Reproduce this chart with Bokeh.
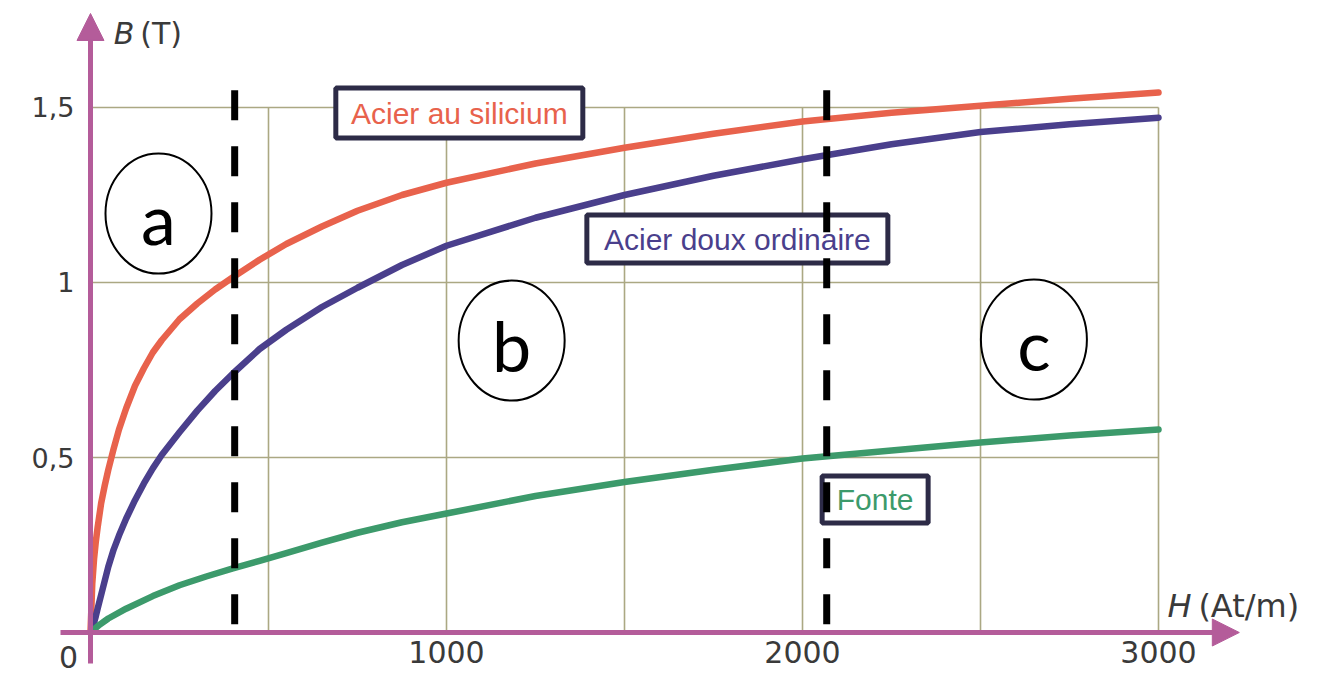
from bokeh.plotting import figure
from bokeh.models import Range1d, FixedTicker, Arrow, NormalHead, LinearAxis
from bokeh.core.properties import value
from bokeh.embed import file_html
from bokeh.resources import INLINE

# ---- data ----
H_silicium = [0, 5, 10, 15, 20, 30, 40, 50, 65, 80, 100, 125, 150, 175, 200, 250,
              300, 350, 400, 475, 550, 650, 750, 875, 1000, 1250, 1500, 1750,
              2000, 2250, 2500, 2750, 3000]
B_silicium = [0, 0.14, 0.21, 0.26, 0.30, 0.37, 0.42, 0.465, 0.525, 0.58, 0.64,
              0.705, 0.755, 0.80, 0.835, 0.895, 0.94, 0.98, 1.015, 1.065, 1.11,
              1.16, 1.205, 1.25, 1.285, 1.34, 1.385, 1.425, 1.46, 1.485, 1.505,
              1.525, 1.543]

H_doux = [0, 5, 10, 15, 20, 30, 40, 50, 65, 80, 100, 125, 150, 175, 200, 250,
          300, 350, 400, 475, 550, 650, 750, 875, 1000, 1250, 1500, 1750, 2000,
          2250, 2500, 2750, 3000]
B_doux = [0, 0.012, 0.028, 0.047, 0.068, 0.108, 0.148, 0.188, 0.237, 0.277, 0.325,
          0.378, 0.426, 0.469, 0.507, 0.572, 0.634, 0.69, 0.74, 0.81, 0.865, 0.93,
          0.985, 1.05, 1.105, 1.185, 1.25, 1.305, 1.352, 1.395, 1.43, 1.452, 1.471]

H_fonte = [0, 25, 50, 100, 175, 250, 325, 400, 475, 550, 650, 750, 875, 1000,
           1250, 1500, 1750, 2000, 2250, 2500, 2750, 3000]
B_fonte = [0, 0.022, 0.040, 0.068, 0.104, 0.135, 0.16, 0.183, 0.205, 0.227,
           0.257, 0.285, 0.315, 0.34, 0.39, 0.43, 0.465, 0.497, 0.52, 0.543,
           0.563, 0.58]

curve_names = ["Acier au silicium", "Acier doux ordinaire", "Fonte"]
curve_colors = ["#e8624c", "#4a3f8c", "#3c9a6b"]

x_ticks = [1000, 2000, 3000]
x_tick_labels = ["1000", "2000", "3000"]
y_ticks = [0.5, 1.0, 1.5]
y_tick_labels = ["0,5", "1", "1,5"]
grid_x = [500, 1000, 1500, 2000, 2500, 3000]
grid_y = [0.5, 1.0, 1.5]

region_bounds = [405, 2068]
region_names = ["a", "b", "c"]
region_H = [191, 1183, 2650]
region_B = [1.197, 0.834, 0.837]

label_H = [1036, 1817, 2204]
label_B = [1.484, 1.124, 0.38]

AXIS = "#b45c9a"
GRID = "#aba883"
TXT = "#3a3a3a"

p = figure(width=1317, height=676, x_range=Range1d(-252.8, 3446.6),
           y_range=Range1d(-0.1257, 1.8057), output_backend="svg",
           toolbar_location=None, min_border=0, outline_line_color=None,
           x_axis_type=None, y_axis_type=None,
           background_fill_color="white", border_fill_color="white")

# grid (limited to the data box)
p.segment(x0=grid_x, y0=[0] * len(grid_x), x1=grid_x, y1=[max(grid_y)] * len(grid_x),
          line_color=GRID, line_width=1.6)
p.segment(x0=[0] * len(grid_y), y0=grid_y, x1=[max(grid_x)] * len(grid_y), y1=grid_y,
          line_color=GRID, line_width=1.6)

# curves
for xs, ys, c in zip([H_silicium, H_doux, H_fonte], [B_silicium, B_doux, B_fonte], curve_colors):
    p.line(xs, ys, line_color=c, line_width=6.5, line_join="round", line_cap="round")

# curve label boxes
p.rect(x=label_H, y=label_B, width=[247, 301, 106], height=[50, 48, 47],
       width_units="screen", height_units="screen", fill_color="white",
       line_color="#2d2b47", line_width=5)
p.text(x=label_H, y=label_B, text=curve_names, text_color=curve_colors,
       text_font=value("Liberation Sans"), text_font_size="30px",
       text_align="center", text_baseline="middle")

# region ellipses
p.ellipse(x=region_H, y=region_B, width=106, height=120, width_units="screen",
          height_units="screen", fill_color="white", line_color="black", line_width=2)
p.text(x=region_H, y=region_B, text=region_names, text_color="black",
       text_font=value("Lato"), text_font_size="70px", text_align="center",
       text_baseline="middle", y_offset=4)

# dashed region boundaries
p.segment(x0=region_bounds, y0=[1.549] * 2, x1=region_bounds, y1=[0.02] * 2,
          line_color="black", line_width=7, line_dash="30 26")

# axes
xaxis = LinearAxis(fixed_location=0, bounds=(-84, 3200),
                   ticker=FixedTicker(ticks=x_ticks, minor_ticks=list(range(-50, 3201, 50))),
                   major_label_overrides=dict(zip(x_ticks, x_tick_labels)))
yaxis = LinearAxis(fixed_location=0, bounds=(-0.088, 1.70),
                   ticker=FixedTicker(ticks=y_ticks, minor_ticks=[i * 0.05 for i in range(-1, 35)]),
                   major_label_overrides=dict(zip(y_ticks, y_tick_labels)))
for ax in (xaxis, yaxis):
    ax.axis_line_color = AXIS
    ax.axis_line_width = 5
    ax.major_tick_line_color = AXIS
    ax.major_tick_in = 0
    ax.major_tick_out = 0
    ax.minor_tick_line_color = AXIS
    ax.minor_tick_line_width = 1.5
    ax.minor_tick_in = 2
    ax.minor_tick_out = 2
    ax.major_label_text_color = TXT
    ax.major_label_text_font = "DejaVu Sans"
xaxis.major_label_text_font_size = "30px"
xaxis.major_label_standoff = 6
yaxis.major_label_text_font_size = "27px"
yaxis.major_label_standoff = 14
p.add_layout(xaxis, "below")
p.add_layout(yaxis, "left")

head = dict(size=27, fill_color=AXIS, line_color=AXIS)
p.add_layout(Arrow(end=NormalHead(**head), x_start=0, y_start=1.6, x_end=0,
                   y_end=1.7686, line_alpha=0))
p.add_layout(Arrow(end=NormalHead(**head), x_start=3100, y_start=0, x_end=3227,
                   y_end=0, line_alpha=0))

# origin label and axis titles
p.text(x=[0], y=[0], text=["0"], text_color=TXT, text_font=value("DejaVu Sans"),
       text_font_size="30px", text_align="center", text_baseline="middle",
       x_offset=-22, y_offset=24)
p.text(x=[65], y=[1.711], text=["B"], text_color=TXT, text_font=value("DejaVu Sans"),
       text_font_size="30px", text_font_style="italic", text_align="left",
       text_baseline="middle")
p.text(x=[140], y=[1.711], text=["(T)"], text_color=TXT, text_font=value("DejaVu Sans"),
       text_font_size="30px", text_align="left", text_baseline="middle")
p.text(x=[3025], y=[0.077], text=["H"], text_color=TXT, text_font=value("DejaVu Sans"),
       text_font_size="32px", text_font_style="italic", text_align="left",
       text_baseline="middle")
p.text(x=[3112], y=[0.077], text=["(At/m)"], text_color=TXT, text_font=value("DejaVu Sans"),
       text_font_size="32px", text_align="left", text_baseline="middle")

open("out.html", "w").write(file_html(p, INLINE))
